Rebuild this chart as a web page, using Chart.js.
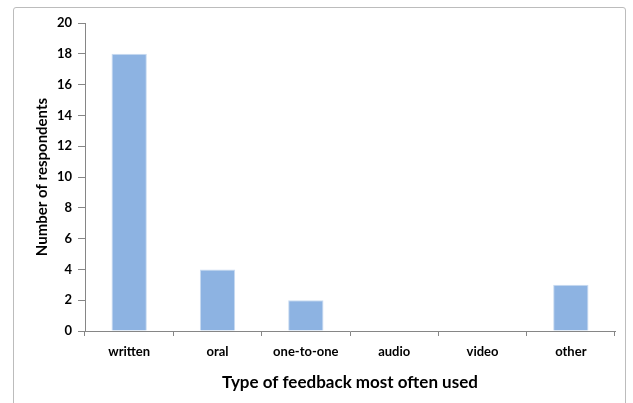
<!DOCTYPE html>
<html>
<head>
<meta charset="utf-8">
<script src="https://cdn.jsdelivr.net/npm/chart.js@4/dist/chart.umd.min.js"></script>
<style>
  html, body { margin: 0; padding: 0; background: #ffffff; }
  #wrap { position: relative; width: 633px; height: 403px; }
  #frame { position: absolute; left: 13px; top: 7px; width: 613px; height: 400px;
           border: 1px solid #bcbcbc; border-radius: 3px; box-sizing: border-box; }
  canvas { position: absolute; left: 0; top: 0; }
</style>
</head>
<body>
<div id="wrap">
  <div id="frame"></div>
  <canvas id="chart" width="633" height="403"></canvas>
</div>
<script>
// Feedback types and how many respondents use each most often
const categories = ['written', 'oral', 'one-to-one', 'audio', 'video', 'other'];
const respondents = [18, 4, 2, 0, 0, 3];
const yMin = 0;
const yMax = 20;
const yStep = 2;

const axisColor = '#868686';
const fontFamily = 'Lato, "Open Sans", sans-serif';
const padLeft = 33;

new Chart(document.getElementById('chart'), {
  type: 'bar',
  data: {
    labels: categories,
    datasets: [{
      data: respondents,
      backgroundColor: '#8db3e2',
      borderColor: '#c9dbf1',
      borderWidth: { left: 1, right: 1, top: 1, bottom: 0 },
      barPercentage: 0.4,
      categoryPercentage: 1.0
    }]
  },
  options: {
    responsive: false,
    animation: false,
    devicePixelRatio: 1,
    layout: { padding: { left: padLeft, right: 18, top: 23, bottom: 10 } },
    plugins: { legend: { display: false }, tooltip: { enabled: false } },
    scales: {
      x: {
        offset: true,
        grid: { offset: true, drawOnChartArea: false, drawTicks: true, tickLength: 5, color: axisColor },
        border: { color: axisColor, width: 1 },
        ticks: { color: '#000', padding: 8, font: { family: fontFamily, size: 13, weight: 'bold' } },
        title: { display: true, text: 'Type of feedback most often used', color: '#000',
                 font: { family: fontFamily, size: 17, weight: 'bold' }, padding: 0 },
        afterFit: s => { s.height = 403 - 10 - 331; }
      },
      y: {
        min: yMin, max: yMax,
        grid: { drawOnChartArea: false, drawTicks: true, tickLength: 7, color: axisColor },
        border: { color: axisColor, width: 1 },
        ticks: { stepSize: yStep, color: '#000', padding: 6,
                 font: { family: fontFamily, size: 13, weight: 'bold' } },
        title: { display: true, text: 'Number of respondents', color: '#000',
                 font: { family: fontFamily, size: 15, weight: 'bold' }, padding: 0 },
        afterFit: s => { s.width = 85 - padLeft; }
      }
    }
  }
});
</script>
</body>
</html>
